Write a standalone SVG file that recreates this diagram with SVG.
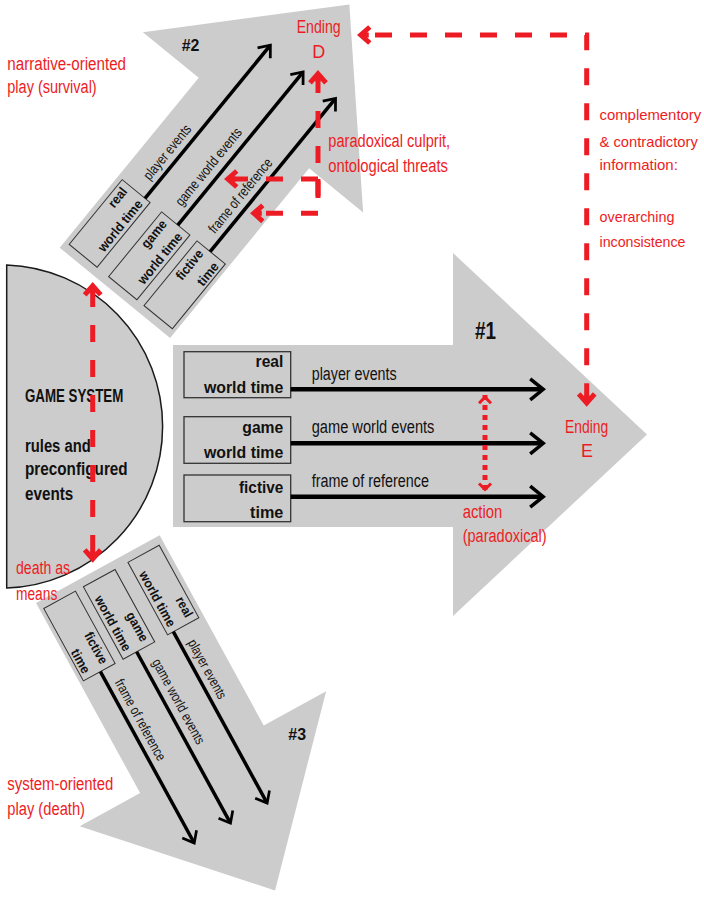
<svg xmlns="http://www.w3.org/2000/svg" width="704" height="897" viewBox="0 0 704 897">
<style>
.shape{fill:#cccccc}
.box{fill:#cccccc;stroke:#333333;stroke-width:1.3}
.bt{font-family:"Liberation Sans",Arial,sans-serif;font-weight:bold;font-size:17px;fill:#111111;text-anchor:end}
.lb{font-family:"Liberation Sans",Arial,sans-serif;font-size:18px;fill:#111111}
.num{font-family:"Liberation Sans",Arial,sans-serif;font-weight:bold;fill:#111111}
.gs{font-family:"Liberation Sans",Arial,sans-serif;font-weight:bold;font-size:18px;fill:#111111}
.red{font-family:"Liberation Sans",Arial,sans-serif;font-size:18px;fill:#ed1c24}
.redr{font-family:"Liberation Sans",Arial,sans-serif;font-size:15px;fill:#ed1c24}
.tl{stroke:#000000;stroke-width:4.5;fill:none}
.rdash{stroke:#ed1c24;stroke-width:5;fill:none;stroke-dasharray:17 18}
.rdot{stroke:#ed1c24;stroke-width:5;fill:none;stroke-dasharray:5 5}
</style>
<defs>
<marker id="bh" viewBox="0 0 22 26" refX="14.8" refY="13" markerWidth="22" markerHeight="26" markerUnits="userSpaceOnUse" orient="auto" overflow="visible">
<path d="M3,2.5 L16,13 L3,23.5" fill="none" stroke="#000000" stroke-width="3.5"/>
</marker>
<marker id="rh" viewBox="0 0 22 20" refX="19.8" refY="10" markerWidth="22" markerHeight="20" markerUnits="userSpaceOnUse" orient="auto-start-reverse" overflow="visible">
<path d="M7,2 L16,10 L7,18 M16,10 H8" fill="none" stroke="#ed1c24" stroke-width="5"/>
</marker>
<marker id="rd" viewBox="0 0 14 14" refX="11.2" refY="7" markerWidth="14" markerHeight="14" markerUnits="userSpaceOnUse" orient="auto-start-reverse" overflow="visible">
<path d="M3,1 L9,7 L3,13" fill="none" stroke="#ed1c24" stroke-width="3"/>
</marker>
</defs>

<g id="arrow2" transform="translate(145,198.3) rotate(-50.7) scale(0.784) translate(-290.7,-389.3)">
<polygon class="shape" points="173,345 453,345 453,253 647,434.5 453,616 453,527 173,527"/>
<rect class="box" x="184" y="351.7" width="106.7" height="46"/>
<rect class="box" x="184" y="416.7" width="106.7" height="46.6"/>
<rect class="box" x="184" y="475" width="106.7" height="46.7"/>
<text class="bt" x="283.3" y="367.3" textLength="27.7" lengthAdjust="spacingAndGlyphs">real</text>
<text class="bt" x="283.3" y="392.7" textLength="79.4" lengthAdjust="spacingAndGlyphs">world time</text>
<text class="bt" x="283.3" y="432.7" textLength="41" lengthAdjust="spacingAndGlyphs">game</text>
<text class="bt" x="283.3" y="458.3" textLength="79.4" lengthAdjust="spacingAndGlyphs">world time</text>
<text class="bt" x="283.3" y="492.7" textLength="44.3" lengthAdjust="spacingAndGlyphs">fictive</text>
<text class="bt" x="283.3" y="518.3" textLength="33.3" lengthAdjust="spacingAndGlyphs">time</text>
<path class="tl" d="M290.7,389.3H542" marker-end="url(#bh)"/>
<path class="tl" d="M290.7,443.3H542" marker-end="url(#bh)"/>
<path class="tl" d="M290.7,496.7H542" marker-end="url(#bh)"/>
<text class="lb" x="311.7" y="380" textLength="85" lengthAdjust="spacingAndGlyphs">player events</text>
<text class="lb" x="311.7" y="432.7" textLength="122.7" lengthAdjust="spacingAndGlyphs">game world events</text>
<text class="lb" x="311.7" y="487.3" textLength="117.3" lengthAdjust="spacingAndGlyphs">frame of reference</text>
</g>

<g id="arrow3" transform="translate(173.3,631.7) rotate(61.3) scale(0.774) translate(-290.7,-389.3)">
<polygon class="shape" points="173,345 453,345 453,253 647,434.5 453,616 453,527 173,527"/>
<rect class="box" x="184" y="351.7" width="106.7" height="46"/>
<rect class="box" x="184" y="416.7" width="106.7" height="46.6"/>
<rect class="box" x="184" y="475" width="106.7" height="46.7"/>
<text class="bt" x="283.3" y="367.3" textLength="27.7" lengthAdjust="spacingAndGlyphs">real</text>
<text class="bt" x="283.3" y="392.7" textLength="79.4" lengthAdjust="spacingAndGlyphs">world time</text>
<text class="bt" x="283.3" y="432.7" textLength="41" lengthAdjust="spacingAndGlyphs">game</text>
<text class="bt" x="283.3" y="458.3" textLength="79.4" lengthAdjust="spacingAndGlyphs">world time</text>
<text class="bt" x="283.3" y="492.7" textLength="44.3" lengthAdjust="spacingAndGlyphs">fictive</text>
<text class="bt" x="283.3" y="518.3" textLength="33.3" lengthAdjust="spacingAndGlyphs">time</text>
<path class="tl" d="M290.7,389.3H542" marker-end="url(#bh)"/>
<path class="tl" d="M290.7,443.3H542" marker-end="url(#bh)"/>
<path class="tl" d="M290.7,496.7H542" marker-end="url(#bh)"/>
<text class="lb" x="311.7" y="380" textLength="85" lengthAdjust="spacingAndGlyphs">player events</text>
<text class="lb" x="311.7" y="432.7" textLength="122.7" lengthAdjust="spacingAndGlyphs">game world events</text>
<text class="lb" x="311.7" y="487.3" textLength="117.3" lengthAdjust="spacingAndGlyphs">frame of reference</text>
</g>

<g id="arrow1">
<polygon class="shape" points="173,345 453,345 453,253 647,434.5 453,616 453,527 173,527"/>
<rect class="box" x="184" y="351.7" width="106.7" height="46"/>
<rect class="box" x="184" y="416.7" width="106.7" height="46.6"/>
<rect class="box" x="184" y="475" width="106.7" height="46.7"/>
<text class="bt" x="283.3" y="367.3" textLength="27.7" lengthAdjust="spacingAndGlyphs">real</text>
<text class="bt" x="283.3" y="392.7" textLength="79.4" lengthAdjust="spacingAndGlyphs">world time</text>
<text class="bt" x="283.3" y="432.7" textLength="41" lengthAdjust="spacingAndGlyphs">game</text>
<text class="bt" x="283.3" y="458.3" textLength="79.4" lengthAdjust="spacingAndGlyphs">world time</text>
<text class="bt" x="283.3" y="492.7" textLength="44.3" lengthAdjust="spacingAndGlyphs">fictive</text>
<text class="bt" x="283.3" y="518.3" textLength="33.3" lengthAdjust="spacingAndGlyphs">time</text>
<path class="tl" d="M290.7,389.3H542" marker-end="url(#bh)"/>
<path class="tl" d="M290.7,443.3H542" marker-end="url(#bh)"/>
<path class="tl" d="M290.7,496.7H542" marker-end="url(#bh)"/>
<text class="lb" x="311.7" y="380" textLength="85" lengthAdjust="spacingAndGlyphs">player events</text>
<text class="lb" x="311.7" y="432.7" textLength="122.7" lengthAdjust="spacingAndGlyphs">game world events</text>
<text class="lb" x="311.7" y="487.3" textLength="117.3" lengthAdjust="spacingAndGlyphs">frame of reference</text>
</g>

<g id="arrow-numbers">
<text class="num" x="475" y="339" font-size="24" textLength="21" lengthAdjust="spacingAndGlyphs">#1</text>
<text class="num" x="181.7" y="51" font-size="17" textLength="17.7" lengthAdjust="spacingAndGlyphs">#2</text>
<text class="num" x="288.3" y="739.5" font-size="17" textLength="17.7" lengthAdjust="spacingAndGlyphs">#3</text>
</g>

<g id="game-system">
<path d="M6.7,265 A161.6,161.6 0 0 1 6.7,588 Z" fill="#cccccc" stroke="#1a1a1a" stroke-width="1.5"/>
<text class="gs" x="25" y="401.7" textLength="98.3" lengthAdjust="spacingAndGlyphs">GAME SYSTEM</text>
<text class="gs" x="25" y="451.7" textLength="65.7" lengthAdjust="spacingAndGlyphs">rules and</text>
<text class="gs" x="25" y="475" textLength="102.7" lengthAdjust="spacingAndGlyphs">preconfigured</text>
<text class="gs" x="25" y="500" textLength="48.3" lengthAdjust="spacingAndGlyphs">events</text>
</g>

<g id="connectors">
<path class="rdash" d="M357,35 H586.7 V406.7" stroke-dashoffset="17" marker-start="url(#rh)" marker-end="url(#rh)"/>
<path class="rdash" d="M92.7,282 V562.7" stroke-dashoffset="27" marker-start="url(#rh)" marker-end="url(#rh)"/>
<path class="rdash" d="M318,198 V70" marker-end="url(#rh)"/>
<path class="rdash" d="M318,213.3 H250" marker-end="url(#rh)"/>
<path class="rdash" d="M318,179 V198 M318,179 H224" marker-end="url(#rh)"/>
<path class="rdot" d="M485,395 V491.7" marker-start="url(#rd)" marker-end="url(#rd)"/>
</g>

<g id="annotations">
<text class="red" x="7.3" y="70" textLength="118.7" lengthAdjust="spacingAndGlyphs">narrative-oriented</text>
<text class="red" x="7.3" y="92.7" textLength="89.4" lengthAdjust="spacingAndGlyphs">play (survival)</text>
<text class="red" x="296.7" y="33.3" textLength="44" lengthAdjust="spacingAndGlyphs">Ending</text>
<text class="red" x="318.8" y="58.3" text-anchor="middle">D</text>
<text class="red" x="328.3" y="146.7" textLength="121.7" lengthAdjust="spacingAndGlyphs">paradoxical culprit,</text>
<text class="red" x="328.3" y="171.7" textLength="119.7" lengthAdjust="spacingAndGlyphs">ontological threats</text>
<text class="redr" x="599.5" y="120" textLength="101.7" lengthAdjust="spacingAndGlyphs">complementory</text>
<text class="redr" x="599.5" y="146.7" textLength="98.3" lengthAdjust="spacingAndGlyphs">&amp; contradictory</text>
<text class="redr" x="599.5" y="170" textLength="78.3" lengthAdjust="spacingAndGlyphs">information:</text>
<text class="redr" x="599.5" y="221.7" textLength="75" lengthAdjust="spacingAndGlyphs">overarching</text>
<text class="redr" x="599.5" y="246.7" textLength="86" lengthAdjust="spacingAndGlyphs">inconsistence</text>
<text class="red" x="565" y="433.3" textLength="43.3" lengthAdjust="spacingAndGlyphs">Ending</text>
<text class="red" x="587" y="456.7" text-anchor="middle">E</text>
<text class="red" x="462.7" y="518.3" textLength="39.6" lengthAdjust="spacingAndGlyphs">action</text>
<text class="red" x="462.7" y="542.3" textLength="84" lengthAdjust="spacingAndGlyphs">(paradoxical)</text>
<text class="red" x="16" y="574.3" textLength="54" lengthAdjust="spacingAndGlyphs">death as</text>
<text class="red" x="16" y="600" textLength="41.3" lengthAdjust="spacingAndGlyphs">means</text>
<text class="red" x="7.3" y="790" textLength="106" lengthAdjust="spacingAndGlyphs">system-oriented</text>
<text class="red" x="7.3" y="815" textLength="77.7" lengthAdjust="spacingAndGlyphs">play (death)</text>
</g>
</svg>
